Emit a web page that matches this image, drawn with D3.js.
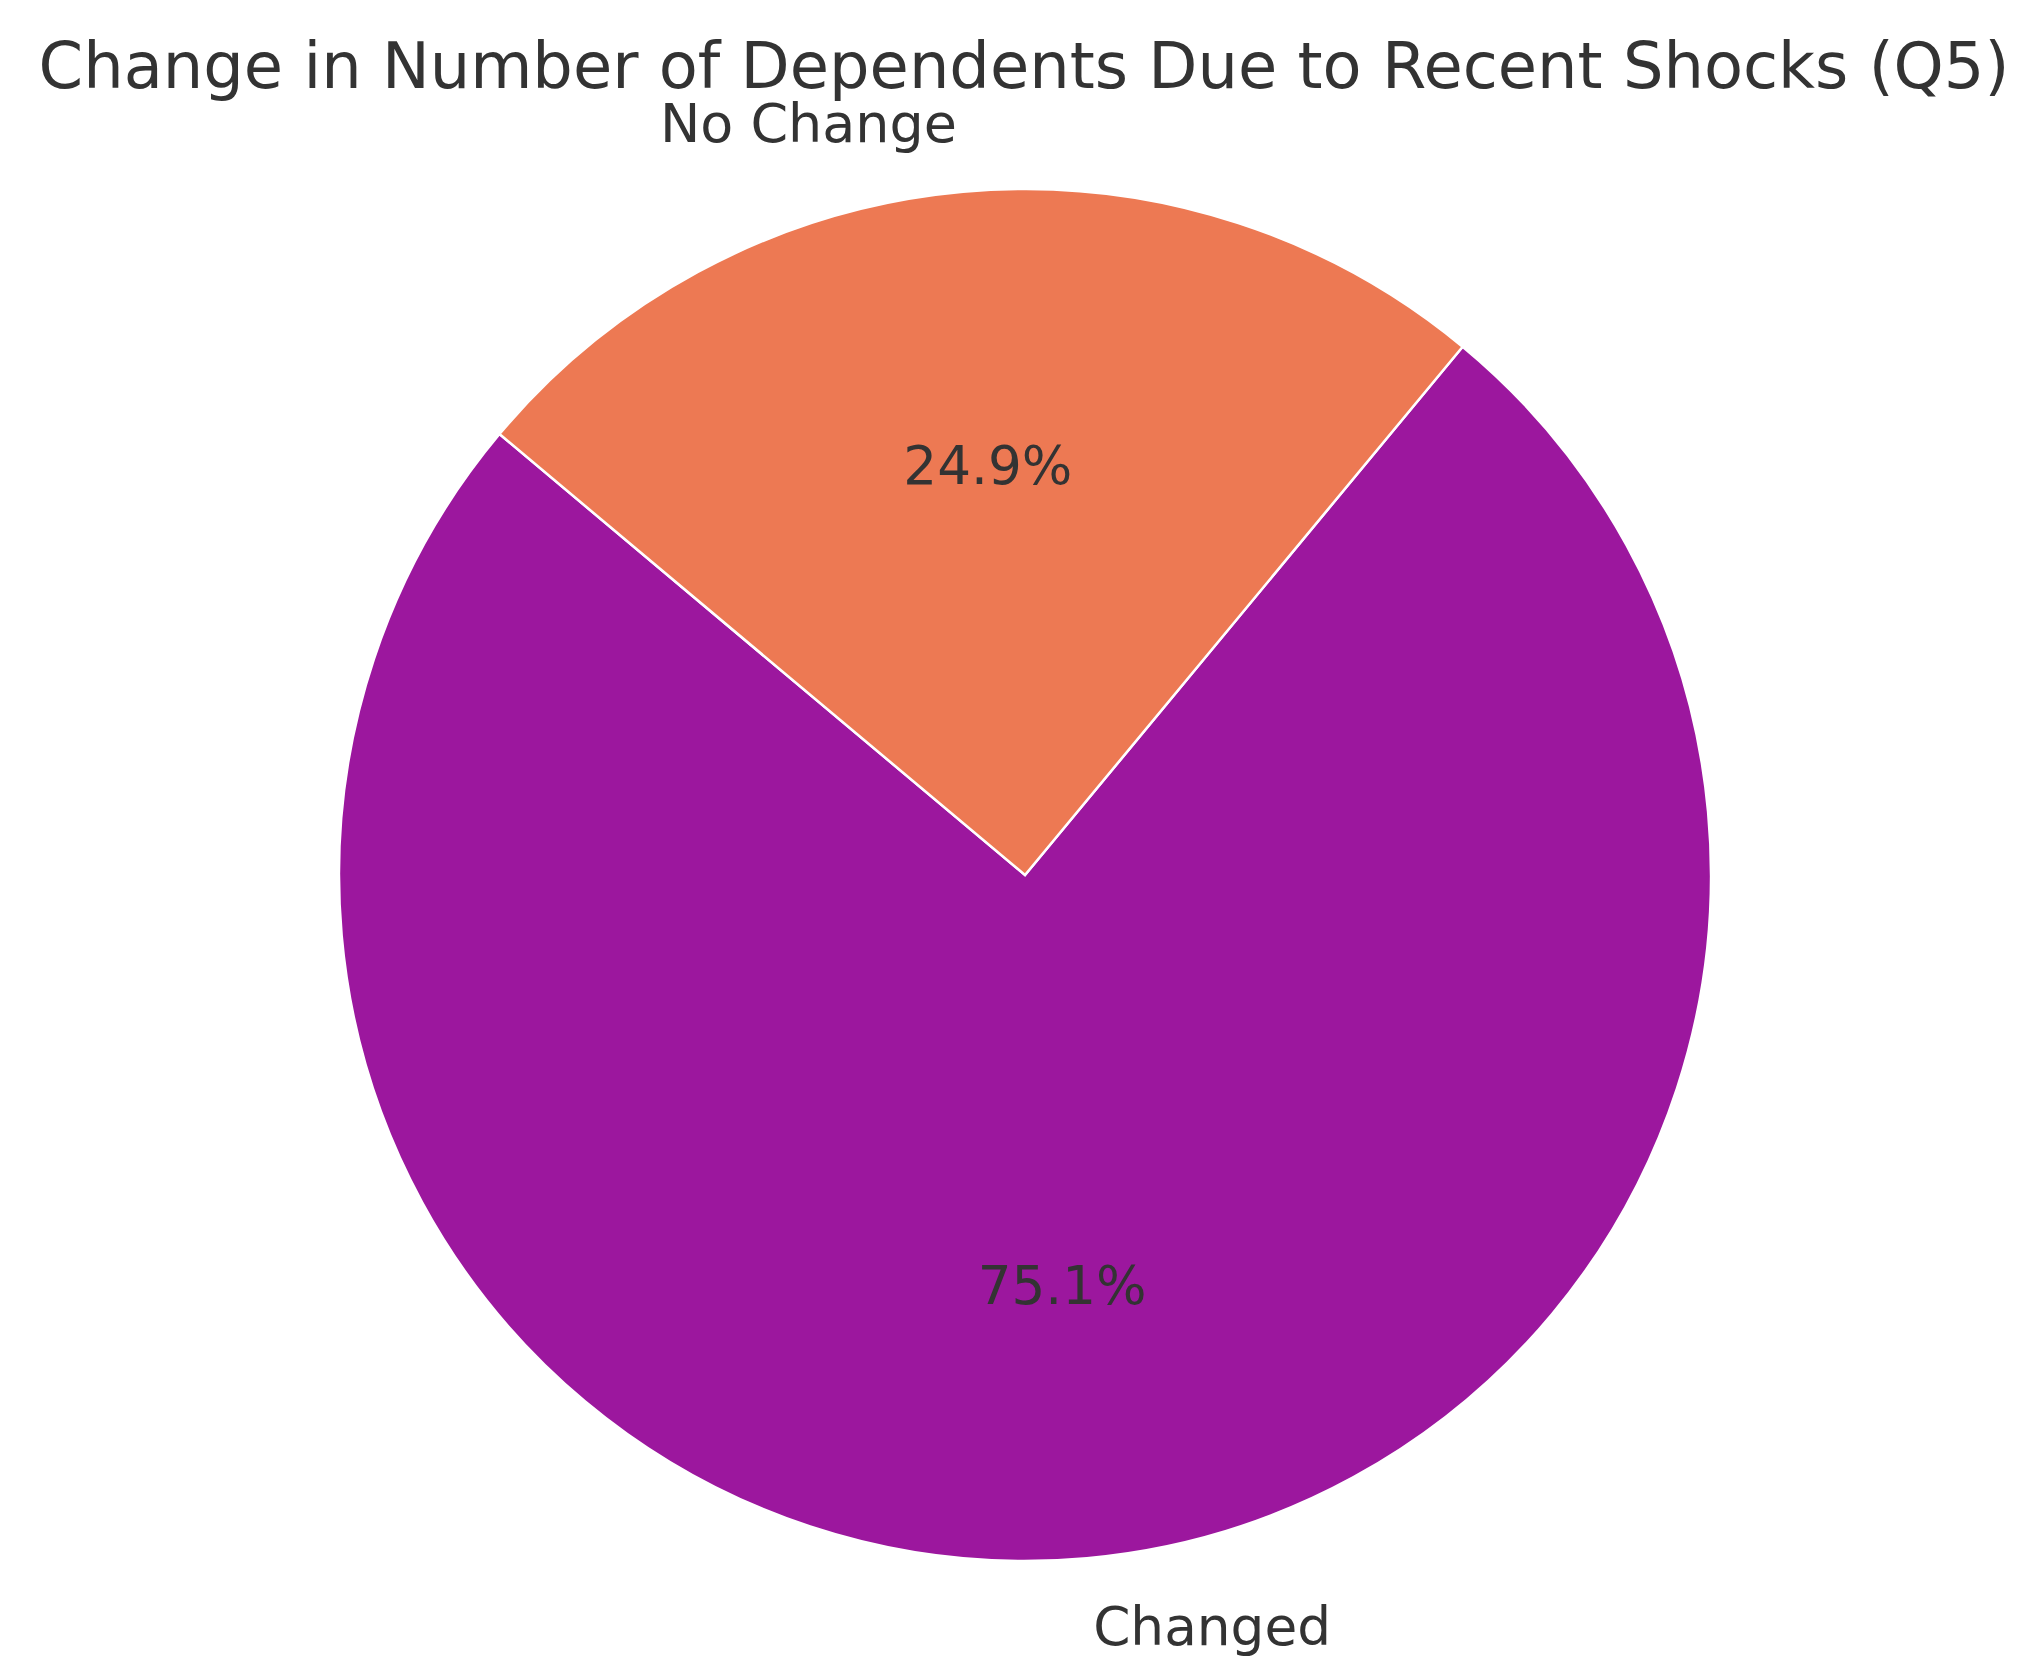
<!DOCTYPE html>
<html>
<head>
<meta charset="utf-8">
<script src="https://cdn.jsdelivr.net/npm/d3@7"></script>
<style>
  body { margin: 0; background: #fff; }
  text { font-family: "DejaVu Sans", sans-serif; fill: #333; }
</style>
</head>
<body>
<svg id="chart" width="2030" height="1678"></svg>
<script>
var labels = ["Changed", "No Change"];
var values = [75.1, 24.9];
var colors = ["#9c179e", "#ed7953"];
var title = "Change in Number of Dependents Due to Recent Shocks (Q5)";

var svg = d3.select("#chart");
var cx = 1025, cy = 875, r = 686;
var rad = Math.PI / 180;

// matplotlib startangle=140, counterclockwise
var pie = d3.pie().sort(null).startAngle(-50 * rad).endAngle(-410 * rad);
var arcs = pie(values);
var arc = d3.arc().innerRadius(0).outerRadius(r);

var g = svg.append("g").attr("transform", "translate(" + cx + "," + cy + ")");

g.selectAll("path.slice").data(arcs).enter().append("path")
    .attr("class", "slice")
    .attr("d", arc)
    .attr("fill", (d, i) => colors[i])
    .attr("stroke", "#fff")
    .attr("stroke-width", 2.5);

function fitText(sel, w) {
    var len = sel.node().getComputedTextLength();
    var fs = parseFloat(sel.attr("font-size"));
    sel.attr("font-size", fs * w / len);
}

arcs.forEach((d, i) => {
    var a = (d.startAngle + d.endAngle) / 2;
    var sx = Math.sin(a), sy = -Math.cos(a);
    var lab = g.append("text")
        .attr("x", 1.1 * r * sx).attr("y", 1.1 * r * sy)
        .attr("dy", "0.35em")
        .attr("font-size", 44)
        .attr("text-anchor", sx < 0 ? "end" : "start")
        .text(labels[i]);
    fitText(lab, i == 0 ? 238 : 297);
    var pct = g.append("text")
        .attr("x", 0.6 * r * sx).attr("y", 0.6 * r * sy)
        .attr("dy", "0.35em")
        .attr("font-size", 44)
        .attr("text-anchor", "middle")
        .text(values[i].toFixed(1) + "%");
    fitText(pct, 169);
});

var t = svg.append("text")
    .attr("x", 1024).attr("y", 88)
    .attr("font-size", 60)
    .attr("text-anchor", "middle")
    .text(title);
fitText(t, 1971);
</script>
</body>
</html>
